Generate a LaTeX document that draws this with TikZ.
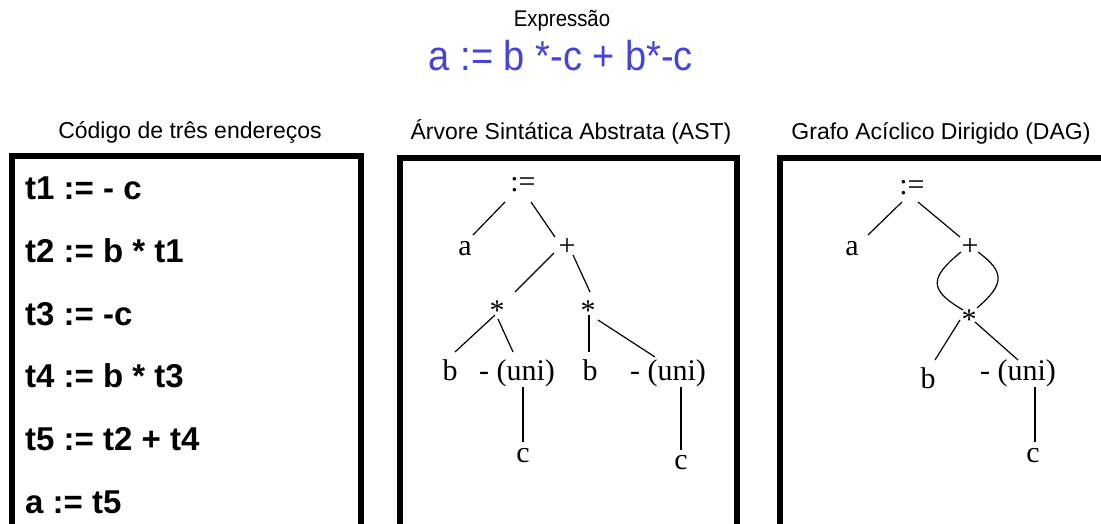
\documentclass[tikz,border=0pt]{standalone}
\usepackage{fontspec}
\setmainfont{Liberation Sans}
\newfontfamily\treefont{Liberation Serif}
\definecolor{exprblue}{RGB}{68,68,214}
\begin{document}
\begin{tikzpicture}[x=1pt,y=-1pt,
  lbl/.style={inner sep=0pt, anchor=base},
  tree/.style={lbl, font=\treefont\fontsize{30}{30}\selectfont},
  code/.style={inner sep=0pt, anchor=base west, font=\bfseries\fontsize{33}{33}\selectfont},
  ttl/.style={lbl, font=\fontsize{23}{23}\selectfont},
  panel/.style={line width=6pt},
  edge/.style={line width=1.2pt}]
\useasboundingbox (0,0) rectangle (1101,524);
\clip (0,0) rectangle (1101,524);
\fill[white] (0,0) rectangle (1101,524);

% heading
\node[lbl, font=\fontsize{21}{21}\selectfont] (exprtitle) at (562,27) {\scalebox{0.97}[1.08]{Expressão}};
\node[lbl, text=exprblue, font=\fontsize{38}{38}\selectfont] (expr) at (561,71) {\scalebox{1}[1.1]{a := b *-c + b*-c}};

% panel titles
\node[ttl] (t3a) at (190,139) {Código de três endereços};
\node[ttl] (tast) at (571,140) {Árvore Sintática Abstrata (AST)};
\node[ttl] (tdag) at (941,140) {Grafo Acíclico Dirigido (DAG)};

% panels
\draw[panel] (11.5,560) -- (11.5,156.5) -- (361,156.5) -- (361,560);
\draw[panel] (400,560) -- (400,158.5) -- (737,158.5) -- (737,560);
\draw[panel] (780,560) -- (780,158.5) -- (1120,158.5);

% three-address code
\node[code] (c1) at (25,200) {t1 := - c};
\node[code] (c2) at (25,262.6) {t2 := b * t1};
\node[code] (c3) at (25,325.2) {t3 := -c};
\node[code] (c4) at (25,387.8) {t4 := b * t3};
\node[code] (c5) at (25,450.4) {t5 := t2 + t4};
\node[code] (c6) at (25,513) {a := t5};

% AST
\node[tree] (as) at (523,192) {:=};
\node[tree] (aa) at (465,255) {a};
\node[tree] (ap) at (567,255) {+};
\node[tree] (am1) at (497,320) {*};
\node[tree] (am2) at (588,320) {*};
\node[tree] (ab1) at (450,380) {b};
\node[tree] (au1) at (517,380) {- (uni)};
\node[tree] (ab2) at (590,380) {b};
\node[tree] (au2) at (668,380) {- (uni)};
\node[tree] (ac1) at (523,462) {c};
\node[tree] (ac2) at (681,469) {c};

\draw[edge] ([shift={(-18,10)}]as.base) -- ([shift={(8,-20)}]aa.base);
\draw[edge] ([shift={(8,10)}]as.base) -- ([shift={(-12,-18)}]ap.base);
\draw[edge] ([shift={(-13,-2)}]ap.base) -- ([shift={(18,-28)}]am1.base);
\draw[edge] ([shift={(6,0)}]ap.base) -- ([shift={(2,-28)}]am2.base);
\draw[edge] ([shift={(-2,-5)}]am1.base) -- ([shift={(5,-28)}]ab1.base);
\draw[edge] ([shift={(1,-1)}]am1.base) -- ([shift={(-4,-28)}]au1.base);
\draw[edge] ([shift={(1,-5)}]am2.base) -- ([shift={(-1,-28)}]ab2.base);
\draw[edge] ([shift={(10,0)}]am2.base) -- ([shift={(-13,-23)}]au2.base);
\draw[edge] ([shift={(6,7)}]au1.base) -- ([shift={(0,-20)}]ac1.base);
\draw[edge] ([shift={(13,7)}]au2.base) -- ([shift={(0,-19)}]ac2.base);

% DAG
\node[tree] (ds) at (912,195) {:=};
\node[tree] (da) at (852,255) {a};
\node[tree] (dp) at (970,255) {+};
\node[tree] (dm) at (969,329) {*};
\node[tree] (db) at (928,388) {b};
\node[tree] (du) at (1018,380) {- (uni)};
\node[tree] (dc) at (1033,462) {c};

\draw[edge] ([shift={(-10,7)}]ds.base) -- ([shift={(16,-20)}]da.base);
\draw[edge] ([shift={(6,7)}]ds.base) -- ([shift={(-10,-18)}]dp.base);
\draw[edge] ([shift={(-9,-3)}]dp.base) .. controls +(-32,26) and +(-34,-20) .. ([shift={(-6,-19)}]dm.base);
\draw[edge] ([shift={(8,-3)}]dp.base) .. controls +(27,20) and +(28,-24) .. ([shift={(8,-21)}]dm.base);
\draw[edge] ([shift={(-9,-9)}]dm.base) -- ([shift={(7,-28)}]db.base);
\draw[edge] ([shift={(6,-7)}]dm.base) -- ([shift={(0,-20)}]du.base);
\draw[edge] ([shift={(17,7)}]du.base) -- ([shift={(2,-20)}]dc.base);
\end{tikzpicture}
\end{document}
